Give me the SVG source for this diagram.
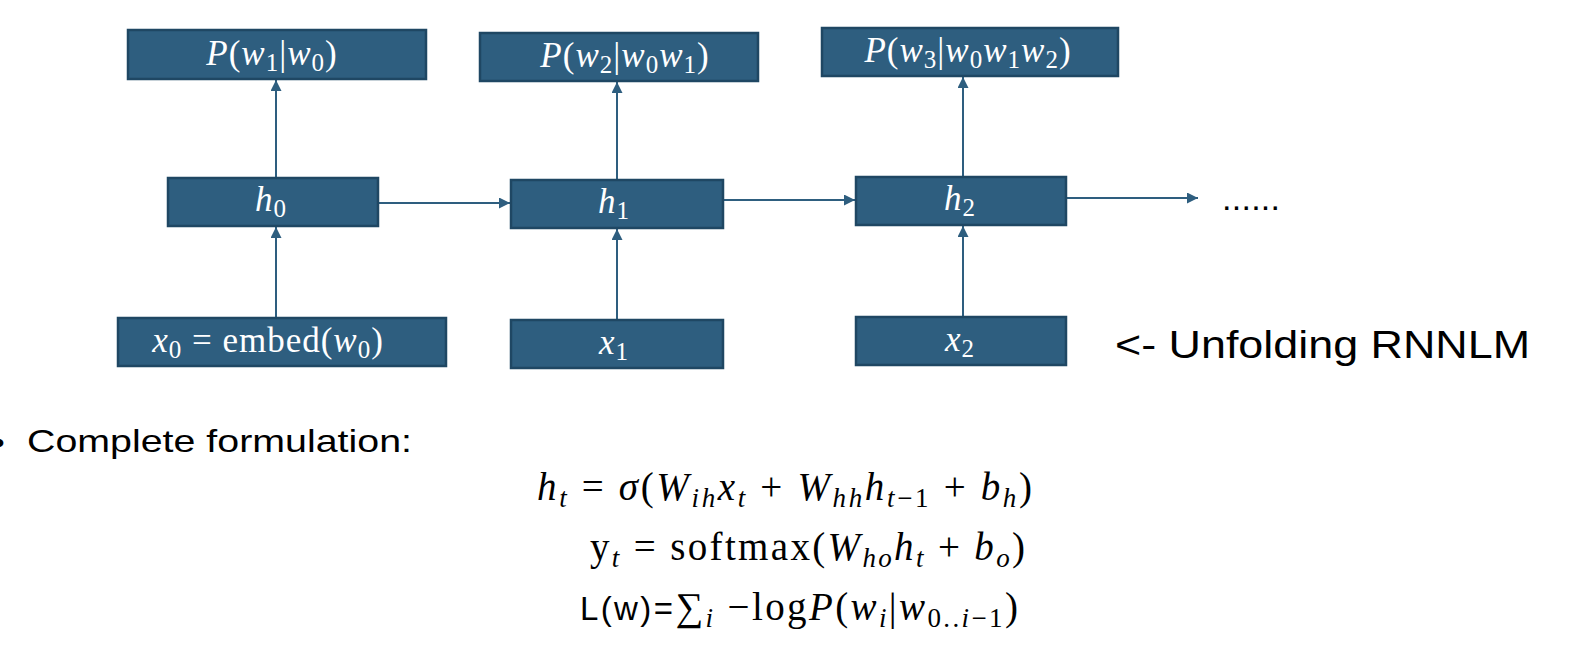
<svg xmlns="http://www.w3.org/2000/svg" width="1576" height="661" viewBox="0 0 1576 661">
<style>
.box{fill:#2e5e7f;stroke:#1f4763;stroke-width:2.5}
.bt{font-family:"Liberation Serif",serif;font-size:35px;fill:#ffffff;text-anchor:middle;letter-spacing:1px}
.i{font-style:italic}
.sub{font-size:25px}
.conn{stroke:#2e5e7f;stroke-width:2;fill:none}
.math{font-family:"Liberation Serif",serif;font-size:39px;fill:#000000}
.msub{font-size:27px}
.sans{font-family:"Liberation Sans",Arial,sans-serif;fill:#000000}
</style>
<defs>
<marker id="ah" viewBox="0 0 10 10" refX="10" refY="5" markerWidth="12" markerHeight="11" markerUnits="userSpaceOnUse" orient="auto">
<path d="M0,0 L10,5 L0,10 z" fill="#2e5e7f"/>
</marker>
</defs>
<rect width="1576" height="661" fill="#ffffff"/>
<g id="connectors">
<line class="conn" x1="276" y1="178" x2="276" y2="80" marker-end="url(#ah)"/>
<line class="conn" x1="617" y1="180" x2="617" y2="82" marker-end="url(#ah)"/>
<line class="conn" x1="963" y1="177" x2="963" y2="77" marker-end="url(#ah)"/>
<line class="conn" x1="276" y1="318" x2="276" y2="227" marker-end="url(#ah)"/>
<line class="conn" x1="617" y1="320" x2="617" y2="229" marker-end="url(#ah)"/>
<line class="conn" x1="963" y1="317" x2="963" y2="226" marker-end="url(#ah)"/>
<line class="conn" x1="378" y1="203" x2="510" y2="203" marker-end="url(#ah)"/>
<line class="conn" x1="723" y1="200" x2="855" y2="200" marker-end="url(#ah)"/>
<line class="conn" x1="1066" y1="198" x2="1198" y2="198" marker-end="url(#ah)"/>
</g>
<g id="p1"><rect class="box" x="128" y="30" width="298" height="49"/>
<text class="bt" x="272" y="65"><tspan class="i">P</tspan>(<tspan class="i">w</tspan><tspan class="sub" dy="6">1</tspan><tspan dy="-6">|</tspan><tspan class="i">w</tspan><tspan class="sub" dy="6">0</tspan><tspan dy="-6">)</tspan></text></g>
<g id="p2"><rect class="box" x="480" y="33" width="278" height="48"/>
<text class="bt" x="625" y="67"><tspan class="i">P</tspan>(<tspan class="i">w</tspan><tspan class="sub" dy="6">2</tspan><tspan dy="-6">|</tspan><tspan class="i">w</tspan><tspan class="sub" dy="6">0</tspan><tspan class="i" dy="-6">w</tspan><tspan class="sub" dy="6">1</tspan><tspan dy="-6">)</tspan></text></g>
<g id="p3"><rect class="box" x="822" y="28" width="296" height="48"/>
<text class="bt" x="968" y="62"><tspan class="i">P</tspan>(<tspan class="i">w</tspan><tspan class="sub" dy="6">3</tspan><tspan dy="-6">|</tspan><tspan class="i">w</tspan><tspan class="sub" dy="6">0</tspan><tspan class="i" dy="-6">w</tspan><tspan class="sub" dy="6">1</tspan><tspan class="i" dy="-6">w</tspan><tspan class="sub" dy="6">2</tspan><tspan dy="-6">)</tspan></text></g>
<g id="h0"><rect class="box" x="168" y="178" width="210" height="48"/>
<text class="bt" x="271" y="211"><tspan class="i">h</tspan><tspan class="sub" dy="6">0</tspan></text></g>
<g id="h1"><rect class="box" x="511" y="180" width="212" height="48"/>
<text class="bt" x="614" y="213"><tspan class="i">h</tspan><tspan class="sub" dy="6">1</tspan></text></g>
<g id="h2"><rect class="box" x="856" y="177" width="210" height="48"/>
<text class="bt" x="960" y="210"><tspan class="i">h</tspan><tspan class="sub" dy="6">2</tspan></text></g>
<g id="x0"><rect class="box" x="118" y="318" width="328" height="48"/>
<text class="bt" x="268" y="352"><tspan class="i">x</tspan><tspan class="sub" dy="6">0</tspan><tspan dy="-6"> = embed(</tspan><tspan class="i">w</tspan><tspan class="sub" dy="6">0</tspan><tspan dy="-6">)</tspan></text></g>
<g id="x1"><rect class="box" x="511" y="320" width="212" height="48"/>
<text class="bt" x="614" y="354"><tspan class="i">x</tspan><tspan class="sub" dy="6">1</tspan></text></g>
<g id="x2"><rect class="box" x="856" y="317" width="210" height="48"/>
<text class="bt" x="960" y="351"><tspan class="i">x</tspan><tspan class="sub" dy="6">2</tspan></text></g>
<text class="sans" x="1222" y="210" font-size="34" textLength="58" lengthAdjust="spacing">......</text>
<text class="sans" x="1115" y="358" font-size="38" textLength="415" lengthAdjust="spacingAndGlyphs">&lt;- Unfolding RNNLM</text>
<text class="sans" x="-6" y="453" font-size="30">•</text>
<text class="sans" x="27" y="452" font-size="32" textLength="385" lengthAdjust="spacingAndGlyphs">Complete formulation:</text>
<text class="math" x="537" y="500" textLength="495" lengthAdjust="spacing"><tspan class="i">h</tspan><tspan class="msub i" dy="7">t</tspan><tspan dy="-7"> = </tspan><tspan class="i">σ</tspan>(<tspan class="i">W</tspan><tspan class="msub i" dy="7">ih</tspan><tspan class="i" dy="-7">x</tspan><tspan class="msub i" dy="7">t</tspan><tspan dy="-7"> + </tspan><tspan class="i">W</tspan><tspan class="msub i" dy="7">hh</tspan><tspan class="i" dy="-7">h</tspan><tspan class="msub" dy="7"><tspan class="i">t</tspan>−1</tspan><tspan dy="-7"> + </tspan><tspan class="i">b</tspan><tspan class="msub i" dy="7">h</tspan><tspan dy="-7">)</tspan></text>
<text class="math" x="590" y="560" textLength="435" lengthAdjust="spacing">y<tspan class="msub i" dy="7">t</tspan><tspan dy="-7"> = softmax(</tspan><tspan class="i">W</tspan><tspan class="msub i" dy="7">ho</tspan><tspan class="i" dy="-7">h</tspan><tspan class="msub i" dy="7">t</tspan><tspan dy="-7"> + </tspan><tspan class="i">b</tspan><tspan class="msub i" dy="7">o</tspan><tspan dy="-7">)</tspan></text>
<text class="math" x="580" y="620" textLength="438" lengthAdjust="spacing"><tspan font-family="Liberation Sans, Arial, sans-serif" font-size="33">L(w)=</tspan>∑<tspan class="msub i" dy="7">i</tspan><tspan dy="-7"> −log</tspan><tspan class="i">P</tspan>(<tspan class="i">w</tspan><tspan class="msub i" dy="7">i</tspan><tspan dy="-7">|</tspan><tspan class="i">w</tspan><tspan class="msub" dy="7">0..<tspan class="i">i</tspan>−1</tspan><tspan dy="-7">)</tspan></text>
</svg>
